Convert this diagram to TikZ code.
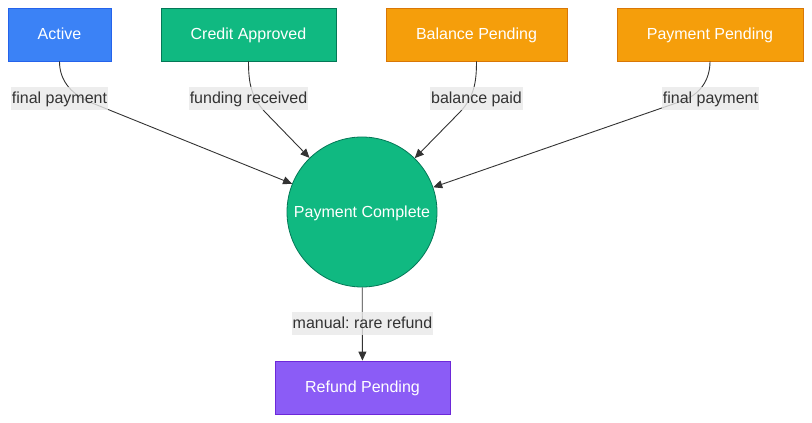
\documentclass[tikz,border=0pt]{standalone}
\usepackage{fontspec}
\setmainfont{Liberation Sans}
\usetikzlibrary{arrows.meta}
\frenchspacing
\definecolor{cblue}{HTML}{3B82F6}
\definecolor{cbluedk}{HTML}{2563EB}
\definecolor{cgreen}{HTML}{10B981}
\definecolor{cgreendk}{HTML}{047857}
\definecolor{camber}{HTML}{F59E0B}
\definecolor{camberdk}{HTML}{D97706}
\definecolor{cviolet}{HTML}{8B5CF6}
\definecolor{cvioletdk}{HTML}{6D28D9}
\definecolor{lblbg}{HTML}{E8E8E8}
\definecolor{ink}{HTML}{333333}
\tikzset{
  x=1pt, y=1pt,
  state/.style={draw, line width=0.8pt, rectangle, minimum height=53pt, text=white,
    font=\fontsize{16}{19}\selectfont, inner sep=0pt, text height=13pt, text depth=2pt},
  bluebox/.style={state, fill=cblue, draw=cbluedk},
  greenbox/.style={state, fill=cgreen, draw=cgreendk},
  amberbox/.style={state, fill=camber, draw=camberdk},
  violetbox/.style={state, fill=cviolet, draw=cvioletdk},
  donecircle/.style={circle, draw=cgreendk, fill=cgreen, line width=0.8pt, minimum size=150pt,
    inner sep=0pt, text=white, font=\fontsize{16}{19}\selectfont, text height=13pt, text depth=2pt},
  edgelbl/.style={fill=lblbg, fill opacity=0.8, text opacity=1, text=ink,
    font=\fontsize{16}{19}\selectfont, inner xsep=1pt, inner ysep=4pt,
    text height=13pt, text depth=2pt},
  conn/.style={draw=ink, line width=0.9pt, -{Triangle[length=9pt,width=8pt]}},
}
\begin{document}
\begin{tikzpicture}
\useasboundingbox (0,0) rectangle (812,423);
% nodes
\node[bluebox, minimum width=103pt] (act) at (59.5,388.5) {Active};
\node[greenbox, minimum width=175pt] (cred) at (248.5,388.5) {Credit Approved};
\node[amberbox, minimum width=181pt] (bal) at (476.5,388.5) {Balance Pending};
\node[amberbox, minimum width=186pt] (ppend) at (710,388.5) {Payment Pending};
\node[donecircle] (done) at (362,211) {Payment Complete};
\node[violetbox, minimum width=175pt] (ref) at (362.5,35.5) {Refund Pending};
% bend points
\coordinate (k1) at (92,320);
\coordinate (k2) at (265,311);
\coordinate (k3) at (460,311);
\coordinate (k4) at (682,322);
% connectors
\draw[conn] (act.south) to[out=-90,in=158] (k1) -- (done);
\draw[conn] (cred.south) to[out=-90,in=133] (k2) -- (done);
\draw[conn] (bal.south) to[out=-90,in=47] (k3) -- (done);
\draw[conn] (ppend.south) to[out=-90,in=20] (k4) -- (done);
\draw[conn] (done) -- (ref);
% labels
\node[edgelbl] (l1) at (59.5,324.5) {final payment};
\node[edgelbl] (l2) at (248.5,324.5) {funding received};
\node[edgelbl] (l3) at (476.5,324.5) {balance paid};
\node[edgelbl] (l4) at (710.5,324.5) {final payment};
\node[edgelbl] (l5) at (362.5,99.5) {manual: rare refund};
\end{tikzpicture}
\end{document}
